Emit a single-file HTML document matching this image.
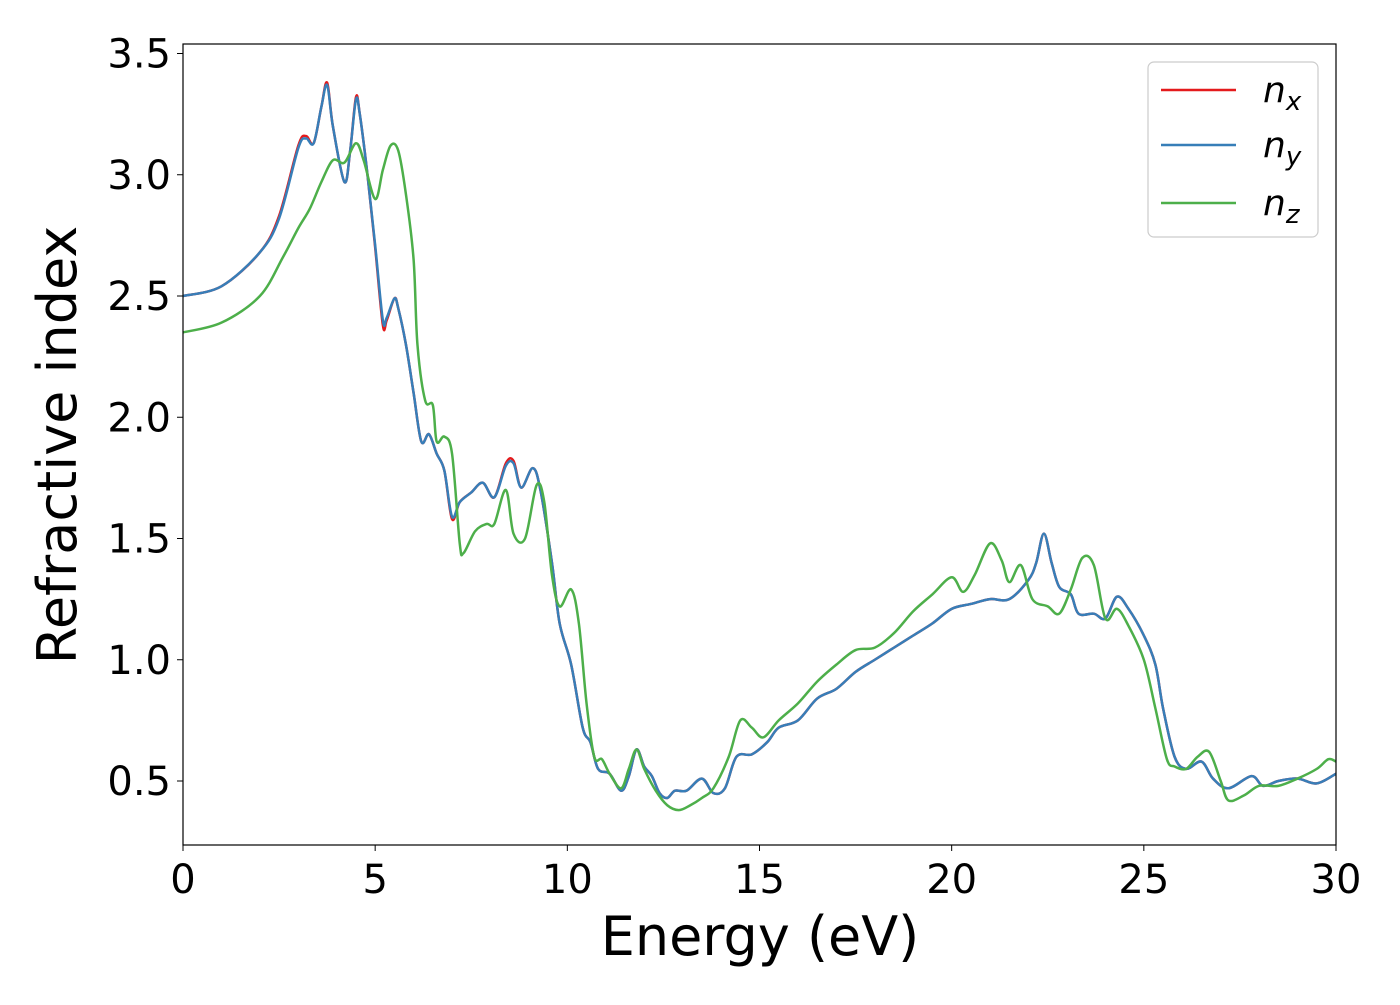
<!DOCTYPE html>
<html><head><meta charset="utf-8"><style>
body{margin:0;background:#fff;}
svg text{font-family:"DejaVu Sans","Liberation Sans",sans-serif;fill:#000;}
</style></head><body>
<svg id="chart" width="1400" height="1000" viewBox="0 0 1400 1000" xmlns="http://www.w3.org/2000/svg">
<g id="plot"></g>
<rect x="183" y="44" width="1153" height="801" fill="none" stroke="#000" stroke-width="1.2"/>
<g id="ticks"></g>
<text x="760" y="955" font-size="54" text-anchor="middle">Energy (eV)</text>
<text transform="translate(76,445) rotate(-90)" font-size="54" text-anchor="middle">Refractive index</text>
<g>
<rect x="1148" y="62" width="170" height="175" rx="6" fill="#fff" stroke="#ccc" stroke-width="1.2"/>
<line x1="1161" y1="90" x2="1236" y2="90" stroke="#e41a1c" stroke-width="2.5"/>
<text x="1263" y="102" font-size="36" font-style="italic">n<tspan font-size="26" dy="8">x</tspan></text>
<line x1="1161" y1="145" x2="1236" y2="145" stroke="#377eb8" stroke-width="2.5"/>
<text x="1263" y="157" font-size="36" font-style="italic">n<tspan font-size="26" dy="8">y</tspan></text>
<line x1="1161" y1="203" x2="1236" y2="203" stroke="#4daf4a" stroke-width="2.5"/>
<text x="1263" y="215" font-size="36" font-style="italic">n<tspan font-size="26" dy="8">z</tspan></text>
</g>
</svg>
<script>
const energyX=[0,1,2,2.5,3,3.2,3.4,3.6,3.75,3.9,4.2,4.35,4.5,4.6,4.8,5.0,5.2,5.3,5.5,5.6,5.8,6.0,6.2,6.4,6.6,6.8,7.0,7.2,7.5,7.8,8.1,8.4,8.6,8.8,9.1,9.3,9.6,9.8,10.1,10.4,10.6,10.8,11.1,11.4,11.6,11.8,12.0,12.2,12.4,12.6,12.8,13.1,13.5,13.8,14.1,14.4,14.8,15.2,15.5,16,16.5,17,17.5,18,18.5,19,19.5,20,20.5,21,21.5,22,22.2,22.4,22.6,22.8,23.1,23.3,23.7,24.0,24.3,24.6,25.0,25.3,25.5,25.8,26.1,26.5,26.8,27.2,27.8,28.1,28.5,29,29.5,30];
const nxValues=[2.50,2.54,2.68,2.83,3.12,3.16,3.13,3.28,3.38,3.2,2.97,3.1,3.32,3.25,3.0,2.7,2.38,2.40,2.49,2.45,2.3,2.1,1.9,1.93,1.85,1.78,1.58,1.65,1.69,1.73,1.67,1.81,1.82,1.71,1.79,1.70,1.4,1.15,0.98,0.72,0.66,0.55,0.53,0.46,0.52,0.63,0.56,0.52,0.45,0.43,0.46,0.46,0.51,0.45,0.47,0.60,0.61,0.66,0.72,0.75,0.84,0.88,0.95,1.00,1.05,1.10,1.15,1.21,1.23,1.25,1.25,1.33,1.40,1.52,1.40,1.30,1.27,1.19,1.19,1.17,1.26,1.21,1.10,0.98,0.80,0.60,0.55,0.58,0.51,0.47,0.52,0.48,0.50,0.51,0.49,0.53];
const nyValues=[2.50,2.54,2.68,2.82,3.11,3.15,3.13,3.28,3.37,3.2,2.97,3.1,3.31,3.25,3.0,2.71,2.40,2.41,2.49,2.45,2.3,2.1,1.9,1.93,1.85,1.78,1.59,1.65,1.69,1.73,1.67,1.80,1.81,1.71,1.79,1.70,1.4,1.15,0.98,0.72,0.66,0.55,0.53,0.46,0.52,0.63,0.56,0.52,0.45,0.43,0.46,0.46,0.51,0.45,0.47,0.60,0.61,0.66,0.72,0.75,0.84,0.88,0.95,1.00,1.05,1.10,1.15,1.21,1.23,1.25,1.25,1.33,1.40,1.52,1.40,1.30,1.27,1.19,1.19,1.17,1.26,1.21,1.10,0.98,0.80,0.60,0.55,0.58,0.51,0.47,0.52,0.48,0.50,0.51,0.49,0.53];
const energyZ=[0,1,2,2.6,3,3.3,3.6,3.9,4.2,4.5,4.7,5.0,5.2,5.4,5.6,5.8,6.0,6.1,6.3,6.5,6.6,6.8,7.0,7.2,7.3,7.6,7.9,8.1,8.4,8.6,8.9,9.2,9.4,9.6,9.8,10.1,10.3,10.5,10.7,10.9,11.1,11.4,11.6,11.8,12.0,12.3,12.6,12.9,13.2,13.5,13.8,14.2,14.5,14.8,15.1,15.5,16,16.5,17,17.5,18,18.5,19,19.5,20,20.3,20.6,21,21.3,21.5,21.8,22.1,22.5,22.8,23.1,23.4,23.7,24.0,24.3,24.6,25.0,25.3,25.6,25.8,26.1,26.4,26.7,27.0,27.2,27.6,28.0,28.5,29,29.5,29.8,30];
const nzValues=[2.35,2.39,2.5,2.66,2.78,2.86,2.97,3.06,3.05,3.13,3.06,2.90,3.02,3.12,3.10,2.92,2.65,2.3,2.07,2.05,1.90,1.92,1.85,1.48,1.44,1.53,1.56,1.56,1.70,1.52,1.50,1.72,1.65,1.35,1.22,1.29,1.15,0.82,0.60,0.59,0.53,0.47,0.55,0.63,0.55,0.46,0.40,0.38,0.40,0.43,0.47,0.60,0.75,0.72,0.68,0.75,0.82,0.91,0.98,1.04,1.05,1.11,1.20,1.27,1.34,1.28,1.35,1.48,1.41,1.32,1.39,1.25,1.22,1.19,1.29,1.42,1.39,1.17,1.21,1.14,1.00,0.80,0.59,0.56,0.55,0.60,0.62,0.50,0.42,0.44,0.48,0.48,0.51,0.55,0.59,0.58];
const xTicks=[0,5,10,15,20,25,30];
const yTicks=[0.5,1.0,1.5,2.0,2.5,3.0,3.5];
const xs=v=>183+v*(1153/30);
const ys=v=>781-(v-0.5)*242.5;
const NS='http://www.w3.org/2000/svg';
const plot=document.getElementById('plot');
function path(xv,yv){
  // smooth Catmull-Rom
  const p=xv.map((x,i)=>[xs(x),ys(yv[i])]);
  let d='M'+p[0][0]+','+p[0][1];
  for(let i=0;i<p.length-1;i++){
    const p0=p[Math.max(0,i-1)],p1=p[i],p2=p[i+1],p3=p[Math.min(p.length-1,i+2)];
    d+=' C'+(p1[0]+(p2[0]-p0[0])/6)+','+(p1[1]+(p2[1]-p0[1])/6)+' '+(p2[0]-(p3[0]-p1[0])/6)+','+(p2[1]-(p3[1]-p1[1])/6)+' '+p2[0]+','+p2[1];
  }
  return d;
}
function addLine(xv,yv,color,name){
  const el=document.createElementNS(NS,'path');
  el.setAttribute('d',path(xv,yv));
  el.setAttribute('fill','none');
  el.setAttribute('stroke',color);
  el.setAttribute('stroke-width','2.5');
  
  
  plot.appendChild(el);
}
addLine(energyX,nxValues,'#e41a1c','series-nx');
addLine(energyX,nyValues,'#377eb8','series-ny');
addLine(energyZ,nzValues,'#4daf4a','series-nz');
const tg=document.getElementById('ticks');
xTicks.forEach(v=>{
  const l=document.createElementNS(NS,'line');
  l.setAttribute('x1',xs(v));l.setAttribute('x2',xs(v));l.setAttribute('y1',845);l.setAttribute('y2',851);
  l.setAttribute('stroke','#000');
  
  
  tg.appendChild(l);
  const t=document.createElementNS(NS,'text');
  t.setAttribute('x',xs(v));t.setAttribute('y',893);t.setAttribute('font-size','40');t.setAttribute('text-anchor','middle');
  t.textContent=String(v);
  
  
  tg.appendChild(t);
});
yTicks.forEach(v=>{
  const l=document.createElementNS(NS,'line');
  l.setAttribute('x1',177);l.setAttribute('x2',183);l.setAttribute('y1',ys(v));l.setAttribute('y2',ys(v));
  l.setAttribute('stroke','#000');
  
  
  tg.appendChild(l);
  const t=document.createElementNS(NS,'text');
  t.setAttribute('x',171);t.setAttribute('y',ys(v)+14);t.setAttribute('font-size','40');t.setAttribute('text-anchor','end');
  t.textContent=v.toFixed(1);
  
  
  tg.appendChild(t);
});
</script>
</body></html>
